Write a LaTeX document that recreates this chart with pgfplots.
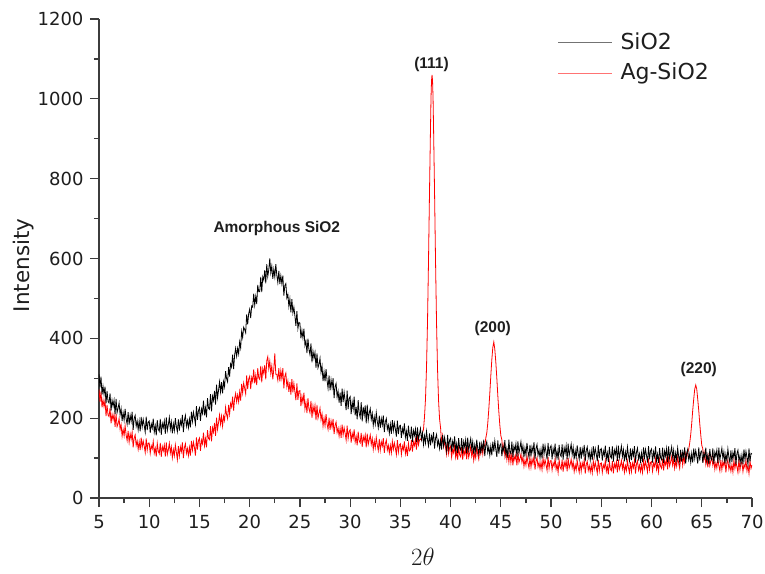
\documentclass[border=0pt]{standalone}
\usepackage{fontspec}
\setmainfont{DejaVu Sans}
\newfontfamily\annfont{Liberation Sans}
\usepackage{pgfplots}
\pgfplotsset{compat=1.18}
\definecolor{axgray}{HTML}{3C3C3C}
\definecolor{txt}{HTML}{1E1E1E}
\begin{document}
\begin{tikzpicture}
\useasboundingbox (-99pt,-75pt) rectangle (666pt,498pt);
\begin{axis}[
  scale only axis, width=653pt, height=479pt,
  xmin=5, xmax=70, ymin=0, ymax=1200,
  axis x line=bottom, axis y line=left,
  axis line style={-, axgray, line width=1.3pt},
  xtick={5,10,...,70}, ytick={0,200,...,1200},
  minor x tick num=1, minor y tick num=1,
  tick align=outside,
  major tick length=9pt, minor tick length=5pt,
  every tick/.style={axgray, line width=1.3pt},
  ticklabel style={font=\fontsize{18}{18}\selectfont, color=txt},
  xticklabel style={yshift=-5pt},
  yticklabel style={xshift=-3pt},
  /pgf/number format/assume math mode=true,
  /pgf/number format/1000 sep={},
  xlabel={$2\theta$},
  xlabel style={at={(axis description cs:0.496,-0.123)}, anchor=center, font=\fontsize{24}{24}\selectfont, color=txt},
  ylabel={Intensity},
  ylabel style={at={(axis description cs:-0.116,0.486)}, anchor=center, font=\fontsize{21.5}{21.5}\selectfont, color=txt},
  reverse legend,
  legend cell align=left,
  legend style={draw=none, fill=none, at={(axis description cs:0.702,0.976)}, anchor=north west,
    font=\fontsize{22}{24}\selectfont, text=txt, inner sep=0pt, row sep=8pt,
    /tikz/every odd column/.append style={column sep=6pt}},
  legend image code/.code={\draw[#1, line width=0.9pt, draw opacity=0.55] (0pt,-1pt) -- (54pt,-1pt);},
]
\addplot[red, line width=0.8pt] coordinates {
(5.0,272)(5.1,241)(5.2,267)(5.3,227)(5.4,246)(5.5,229)(5.6,245)(5.7,205)(5.8,233)(5.9,208)
(6.0,204)(6.1,225)(6.2,187)(6.3,210)(6.4,196)(6.5,210)(6.6,178)(6.7,210)(6.8,179)(6.9,186)
(7.0,199)(7.1,172)(7.2,184)(7.3,155)(7.4,172)(7.5,156)(7.6,181)(7.7,158)(7.8,144)(7.9,168)
(8.0,140)(8.1,161)(8.2,147)(8.3,165)(8.4,127)(8.5,150)(8.6,158)(8.7,132)(8.8,143)(8.9,122)
(9.0,141)(9.1,120)(9.2,151)(9.3,127)(9.4,143)(9.5,130)(9.6,114)(9.7,149)(9.8,120)(9.9,138)
(10.0,138)(10.1,112)(10.2,131)(10.3,123)(10.4,142)(10.5,112)(10.6,125)(10.7,104)(10.8,137)(10.9,117)
(11.0,111)(11.1,138)(11.2,103)(11.3,129)(11.4,118)(11.5,133)(11.6,104)(11.7,139)(11.8,109)(11.9,121)
(12.0,137)(12.1,113)(12.2,128)(12.3,101)(12.4,121)(12.5,106)(12.6,133)(12.7,115)(12.8,96)(12.9,130)
(13.0,105)(13.1,128)(13.2,116)(13.3,139)(13.4,100)(13.5,126)(13.6,136)(13.7,112)(13.8,124)(13.9,106)
(14.0,127)(14.1,106)(14.2,143)(14.3,120)(14.4,140)(14.5,127)(14.6,106)(14.7,152)(14.8,121)(14.9,144)
(15.0,150)(15.1,118)(15.2,145)(15.3,136)(15.4,164)(15.5,131)(15.6,149)(15.7,127)(15.8,170)(15.9,149)
(16.0,146)(16.1,180)(16.2,142)(16.3,176)(16.4,165)(16.5,188)(16.6,156)(16.7,201)(16.8,172)(16.9,189)
(17.0,208)(17.1,185)(17.2,205)(17.3,180)(17.4,205)(17.5,194)(17.6,227)(17.7,209)(17.8,199)(17.9,233)
(18.0,210)(18.1,237)(18.2,228)(18.3,254)(18.4,219)(18.5,249)(18.6,262)(18.7,241)(18.8,258)(18.9,241)
(19.0,266)(19.1,244)(19.2,286)(19.3,263)(19.4,288)(19.5,275)(19.6,261)(19.7,307)(19.8,273)(19.9,298)
(20.0,305)(20.1,273)(20.2,302)(20.3,292)(20.4,322)(20.5,287)(20.6,307)(20.7,283)(20.8,325)(20.9,301)
(21.0,297)(21.1,331)(21.2,290)(21.3,324)(21.4,312)(21.5,333)(21.6,297)(21.7,344)(21.8,354)(21.9,324)
(22.0,343)(22.1,312)(22.2,331)(22.3,297)(22.4,323)(22.5,362)(22.6,310)(22.7,310)(22.8,295)(22.9,325)
(23.0,292)(23.1,319)(23.2,299)(23.3,325)(23.4,275)(23.5,305)(23.6,313)(23.7,279)(23.8,293)(23.9,266)
(24.0,290)(24.1,259)(24.2,298)(24.3,265)(24.4,287)(24.5,266)(24.6,245)(24.7,287)(24.8,246)(24.9,268)
(25.0,269)(25.1,230)(25.2,255)(25.3,239)(25.4,264)(25.5,223)(25.6,240)(25.7,213)(25.8,250)(25.9,223)
(26.0,214)(26.1,243)(26.2,201)(26.3,231)(26.4,214)(26.5,232)(26.6,195)(26.7,233)(26.8,200)(26.9,212)
(27.0,225)(27.1,196)(27.2,211)(27.3,180)(27.4,200)(27.5,181)(27.6,210)(27.7,186)(27.8,172)(27.9,201)
(28.0,171)(28.1,193)(28.2,177)(28.3,198)(28.4,160)(28.5,182)(28.6,190)(28.7,164)(28.8,175)(28.9,155)
(29.0,175)(29.1,151)(29.2,184)(29.3,158)(29.4,176)(29.5,162)(29.6,145)(29.7,181)(29.8,149)(29.9,167)
(30.0,171)(30.1,139)(30.2,162)(30.3,150)(30.4,172)(30.5,140)(30.6,154)(30.7,132)(30.8,166)(30.9,143)
(31.0,138)(31.1,163)(31.2,128)(31.3,154)(31.4,143)(31.5,158)(31.6,127)(31.7,161)(31.8,134)(31.9,146)
(32.0,158)(32.1,134)(32.2,149)(32.3,122)(32.4,143)(32.5,126)(32.6,152)(32.7,133)(32.8,119)(32.9,148)
(33.0,120)(33.1,141)(33.2,130)(33.3,150)(33.4,113)(33.5,136)(33.6,145)(33.7,120)(33.8,132)(33.9,113)
(34.0,132)(34.1,113)(34.2,142)(34.3,122)(34.4,138)(34.5,125)(34.6,109)(34.7,145)(34.8,115)(34.9,133)
(35.0,136)(35.1,109)(35.2,130)(35.3,121)(35.4,142)(35.5,111)(35.6,126)(35.7,105)(35.8,137)(35.9,118)
(36.0,121)(36.1,145)(36.2,116)(36.3,140)(36.4,131)(36.5,147)(36.6,121)(36.7,153)(36.8,133)(36.9,145)
(37.0,148)(37.1,145)(37.2,163)(37.3,172)(37.4,203)(37.5,248)(37.6,326)(37.7,441)(37.8,595)(37.9,769)
(38.0,931)(38.05,1004)(38.1,1046)(38.15,1060)(38.2,1046)(38.25,1004)(38.3,931)(38.4,768)(38.5,592)(38.6,437)(38.7,321)(38.8,244)(38.9,198)
(39.0,176)(39.1,137)(39.2,156)(39.3,129)(39.4,142)(39.5,125)(39.6,109)(39.7,141)(39.8,111)(39.9,126)
(40.0,130)(40.1,102)(40.2,122)(40.3,113)(40.4,132)(40.5,102)(40.6,117)(40.7,96)(40.8,128)(40.9,108)
(41.0,103)(41.1,128)(41.2,96)(41.3,120)(41.4,109)(41.5,124)(41.6,97)(41.7,129)(41.8,102)(41.9,113)
(42.0,128)(42.1,105)(42.2,120)(42.3,94)(42.4,113)(42.5,100)(42.6,127)(42.7,109)(42.8,97)(42.9,125)
(43.0,111)(43.1,131)(43.2,110)(43.3,134)(43.4,130)(43.5,150)(43.6,163)(43.7,188)(43.8,222)(43.9,262)
(44.0,306)(44.1,346)(44.2,377)(44.3,391)(44.4,372)(44.5,340)(44.6,300)(44.7,256)(44.8,216)(44.9,182)
(45.0,156)(45.1,146)(45.2,116)(45.3,133)(45.4,105)(45.5,123)(45.6,96)(45.7,113)(45.8,90)(45.9,114)
(46.0,89)(46.1,113)(46.2,82)(46.3,106)(46.4,95)(46.5,110)(46.6,82)(46.7,114)(46.8,89)(46.9,98)
(47.0,110)(47.1,89)(47.2,103)(47.3,79)(47.4,95)(47.5,82)(47.6,106)(47.7,88)(47.8,75)(47.9,101)
(48.0,77)(48.1,98)(48.2,86)(48.3,105)(48.4,71)(48.5,93)(48.6,101)(48.7,78)(48.8,89)(48.9,73)
(49.0,90)(49.1,71)(49.2,100)(49.3,80)(49.4,96)(49.5,83)(49.6,69)(49.7,103)(49.8,74)(49.9,92)
(50.0,94)(50.1,70)(50.2,88)(50.3,80)(50.4,99)(50.5,72)(50.6,84)(50.7,64)(50.8,96)(50.9,77)
(51.0,72)(51.1,96)(51.2,66)(51.3,90)(51.4,79)(51.5,94)(51.6,67)(51.7,100)(51.8,75)(51.9,84)
(52.0,97)(52.1,76)(52.2,91)(52.3,66)(52.4,83)(52.5,70)(52.6,94)(52.7,77)(52.8,64)(52.9,91)
(53.0,67)(53.1,88)(53.2,77)(53.3,96)(53.4,61)(53.5,84)(53.6,92)(53.7,69)(53.8,81)(53.9,65)
(54.0,82)(54.1,63)(54.2,93)(54.3,73)(54.4,89)(54.5,76)(54.6,62)(54.7,96)(54.8,68)(54.9,86)
(55.0,88)(55.1,64)(55.2,83)(55.3,75)(55.4,94)(55.5,67)(55.6,80)(55.7,59)(55.8,92)(55.9,73)
(56.0,68)(56.1,92)(56.2,62)(56.3,86)(56.4,76)(56.5,91)(56.6,64)(56.7,96)(56.8,72)(56.9,81)
(57.0,94)(57.1,73)(57.2,88)(57.3,64)(57.4,81)(57.5,69)(57.6,93)(57.7,76)(57.8,63)(57.9,90)
(58.0,66)(58.1,87)(58.2,76)(58.3,95)(58.4,61)(58.5,85)(58.6,93)(58.7,70)(58.8,82)(58.9,66)
(59.0,83)(59.1,64)(59.2,94)(59.3,74)(59.4,91)(59.5,79)(59.6,65)(59.7,99)(59.8,71)(59.9,89)
(60.0,91)(60.1,67)(60.2,87)(60.3,79)(60.4,98)(60.5,71)(60.6,85)(60.7,65)(60.8,97)(60.9,79)
(61.0,74)(61.1,98)(61.2,69)(61.3,93)(61.4,83)(61.5,98)(61.6,72)(61.7,104)(61.8,80)(61.9,90)
(62.0,103)(62.1,82)(62.2,98)(62.3,74)(62.4,91)(62.5,79)(62.6,103)(62.7,87)(62.8,74)(62.9,101)
(63.0,109)(63.1,82)(63.2,105)(63.3,89)(63.4,112)(63.5,101)(63.6,115)(63.7,122)(63.8,138)(63.9,159)
(64.0,187)(64.1,220)(64.2,248)(64.3,273)(64.4,283)(64.5,273)(64.6,247)(64.7,219)(64.8,186)(64.9,158)
(65.0,132)(65.1,124)(65.2,96)(65.3,113)(65.4,85)(65.5,103)(65.6,77)(65.7,104)(65.8,81)(65.9,93)
(66.0,103)(66.1,82)(66.2,96)(66.3,72)(66.4,88)(66.5,75)(66.6,99)(66.7,81)(66.8,68)(66.9,95)
(67.0,71)(67.1,91)(67.2,80)(67.3,99)(67.4,64)(67.5,87)(67.6,95)(67.7,72)(67.8,83)(67.9,67)
(68.0,84)(68.1,65)(68.2,95)(68.3,74)(68.4,90)(68.5,78)(68.6,64)(68.7,98)(68.8,70)(68.9,88)
(69.0,90)(69.1,66)(69.2,84)(69.3,76)(69.4,95)(69.5,68)(69.6,81)(69.7,61)(69.8,93)(69.9,74)
(70.0,83)
};
\addlegendentry{Ag-SiO2}
\addplot[black, line width=0.8pt] coordinates {
(5.0,310)(5.1,277)(5.2,304)(5.3,259)(5.4,280)(5.5,260)(5.6,279)(5.7,237)(5.8,268)(5.9,242)
(6.0,238)(6.1,262)(6.2,219)(6.3,245)(6.4,230)(6.5,245)(6.6,210)(6.7,248)(6.8,214)(6.9,225)
(7.0,238)(7.1,209)(7.2,224)(7.3,193)(7.4,214)(7.5,195)(7.6,223)(7.7,199)(7.8,185)(7.9,215)
(8.0,184)(8.1,207)(8.2,192)(8.3,216)(8.4,171)(8.5,199)(8.6,207)(8.7,180)(8.8,193)(8.9,171)
(9.0,193)(9.1,167)(9.2,203)(9.3,178)(9.4,197)(9.5,182)(9.6,165)(9.7,204)(9.8,170)(9.9,190)
(10.0,193)(10.1,163)(10.2,186)(10.3,175)(10.4,199)(10.5,165)(10.6,181)(10.7,157)(10.8,195)(10.9,172)
(11.0,167)(11.1,198)(11.2,158)(11.3,187)(11.4,176)(11.5,193)(11.6,161)(11.7,202)(11.8,169)(11.9,183)
(12.0,202)(12.1,173)(12.2,191)(12.3,162)(12.4,186)(12.5,169)(12.6,200)(12.7,179)(12.8,166)(12.9,197)
(13.0,169)(13.1,194)(13.2,183)(13.3,208)(13.4,165)(13.5,195)(13.6,207)(13.7,180)(13.8,194)(13.9,176)
(14.0,198)(14.1,177)(14.2,216)(14.3,192)(14.4,215)(14.5,201)(14.6,185)(14.7,230)(14.8,196)(14.9,219)
(15.0,226)(15.1,193)(15.2,223)(15.3,212)(15.4,244)(15.5,207)(15.6,226)(15.7,202)(15.8,250)(15.9,225)
(16.0,222)(16.1,260)(16.2,217)(16.3,255)(16.4,244)(16.5,268)(16.6,234)(16.7,284)(16.8,251)(16.9,270)
(17.0,291)(17.1,266)(17.2,290)(17.3,262)(17.4,292)(17.5,279)(17.6,318)(17.7,299)(17.8,291)(17.9,328)
(18.0,304)(18.1,336)(18.2,328)(18.3,359)(18.4,323)(18.5,358)(18.6,375)(18.7,355)(18.8,375)(18.9,361)
(19.0,391)(19.1,376)(19.2,417)(19.3,402)(19.4,428)(19.5,422)(19.6,414)(19.7,460)(19.8,435)(19.9,462)
(20.0,473)(20.1,451)(20.2,481)(20.3,478)(20.4,512)(20.5,483)(20.6,505)(20.7,486)(20.8,534)(20.9,517)
(21.0,517)(21.1,554)(21.2,516)(21.3,554)(21.4,546)(21.5,571)(21.6,538)(21.7,586)(21.8,555)(21.9,572)
(22.0,600)(22.1,564)(22.2,581)(22.3,549)(22.4,573)(22.5,554)(22.6,586)(22.7,558)(22.8,540)(22.9,569)
(23.0,536)(23.1,557)(23.2,537)(23.3,557)(23.4,507)(23.5,532)(23.6,537)(23.7,501)(23.8,510)(23.9,480)
(24.0,499)(24.1,465)(24.2,498)(24.3,464)(24.4,478)(24.5,456)(24.6,431)(24.7,468)(24.8,425)(24.9,440)
(25.0,438)(25.1,400)(25.2,420)(25.3,401)(25.4,424)(25.5,382)(25.6,393)(25.7,363)(25.8,399)(25.9,372)
(26.0,359)(26.1,387)(26.2,340)(26.3,368)(26.4,350)(26.5,365)(26.6,326)(26.7,362)(26.8,326)(26.9,335)
(27.0,350)(27.1,315)(27.2,331)(27.3,293)(27.4,316)(27.5,292)(27.6,323)(27.7,295)(27.8,275)(27.9,307)
(28.0,270)(28.1,296)(28.2,276)(28.3,300)(28.4,250)(28.5,279)(28.6,287)(28.7,253)(28.8,267)(28.9,239)
(29.0,264)(29.1,231)(29.2,274)(29.3,240)(29.4,265)(29.5,243)(29.6,220)(29.7,269)(29.8,223)(29.9,250)
(30.0,254)(30.1,210)(30.2,241)(30.3,223)(30.4,254)(30.5,207)(30.6,228)(30.7,197)(30.8,245)(30.9,212)
(31.0,202)(31.1,240)(31.2,192)(31.3,228)(31.4,208)(31.5,232)(31.6,187)(31.7,234)(31.8,195)(31.9,213)
(32.0,224)(32.1,197)(32.2,212)(32.3,182)(32.4,203)(32.5,185)(32.6,214)(32.7,192)(32.8,176)(32.9,206)
(33.0,176)(33.1,199)(33.2,183)(33.3,207)(33.4,165)(33.5,191)(33.6,199)(33.7,172)(33.8,183)(33.9,162)
(34.0,185)(34.1,161)(34.2,195)(34.3,169)(34.4,188)(34.5,173)(34.6,154)(34.7,194)(34.8,160)(34.9,180)
(35.0,182)(35.1,151)(35.2,174)(35.3,163)(35.4,187)(35.5,152)(35.6,167)(35.7,143)(35.8,181)(35.9,157)
(36.0,151)(36.1,179)(36.2,140)(36.3,169)(36.4,157)(36.5,173)(36.6,140)(36.7,177)(36.8,147)(36.9,160)
(37.0,174)(37.1,147)(37.2,163)(37.3,134)(37.4,156)(37.5,138)(37.6,167)(37.7,146)(37.8,131)(37.9,162)
(38.0,132)(38.1,155)(38.2,142)(38.3,165)(38.4,124)(38.5,150)(38.6,159)(38.7,132)(38.8,144)(38.9,124)
(39.0,145)(39.1,121)(39.2,158)(39.3,131)(39.4,152)(39.5,136)(39.6,118)(39.7,158)(39.8,125)(39.9,145)
(40.0,150)(40.1,116)(40.2,142)(40.3,129)(40.4,154)(40.5,119)(40.6,136)(40.7,113)(40.8,150)(40.9,125)
(41.0,120)(41.1,150)(41.2,111)(41.3,141)(41.4,128)(41.5,146)(41.6,112)(41.7,151)(41.8,120)(41.9,135)
(42.0,149)(42.1,123)(42.2,141)(42.3,110)(42.4,133)(42.5,115)(42.6,146)(42.7,124)(42.8,110)(42.9,141)
(43.0,111)(43.1,136)(43.2,121)(43.3,146)(43.4,105)(43.5,132)(43.6,141)(43.7,114)(43.8,128)(43.9,107)
(44.0,130)(44.1,107)(44.2,141)(44.3,116)(44.4,143)(44.5,122)(44.6,103)(44.7,144)(44.8,111)(44.9,132)
(45.0,136)(45.1,105)(45.2,129)(45.3,118)(45.4,145)(45.5,108)(45.6,124)(45.7,101)(45.8,146)(45.9,116)
(46.0,111)(46.1,141)(46.2,102)(46.3,130)(46.4,119)(46.5,136)(46.6,104)(46.7,142)(46.8,112)(46.9,126)
(47.0,141)(47.1,115)(47.2,131)(47.3,102)(47.4,125)(47.5,108)(47.6,138)(47.7,116)(47.8,102)(47.9,133)
(48.0,104)(48.1,128)(48.2,115)(48.3,140)(48.4,97)(48.5,124)(48.6,134)(48.7,107)(48.8,120)(48.9,100)
(49.0,122)(49.1,99)(49.2,136)(49.3,110)(49.4,131)(49.5,115)(49.6,97)(49.7,138)(49.8,105)(49.9,126)
(50.0,131)(50.1,97)(50.2,124)(50.3,110)(50.4,136)(50.5,101)(50.6,118)(50.7,96)(50.8,133)(50.9,109)
(51.0,104)(51.1,134)(51.2,96)(51.3,126)(51.4,112)(51.5,131)(51.6,97)(51.7,136)(51.8,106)(51.9,121)
(52.0,135)(52.1,109)(52.2,127)(52.3,97)(52.4,119)(52.5,101)(52.6,132)(52.7,111)(52.8,97)(52.9,128)
(53.0,98)(53.1,123)(53.2,109)(53.3,133)(53.4,92)(53.5,119)(53.6,128)(53.7,102)(53.8,116)(53.9,95)
(54.0,118)(54.1,95)(54.2,130)(54.3,105)(54.4,124)(54.5,110)(54.6,92)(54.7,133)(54.8,100)(54.9,121)
(55.0,124)(55.1,94)(55.2,118)(55.3,107)(55.4,131)(55.5,97)(55.6,113)(55.7,90)(55.8,128)(55.9,105)
(56.0,100)(56.1,129)(56.2,91)(56.3,120)(56.4,109)(56.5,125)(56.6,93)(56.7,131)(56.8,101)(56.9,115)
(57.0,130)(57.1,104)(57.2,121)(57.3,92)(57.4,115)(57.5,98)(57.6,128)(57.7,107)(57.8,93)(57.9,124)
(58.0,95)(58.1,119)(58.2,106)(58.3,130)(58.4,89)(58.5,115)(58.6,125)(58.7,98)(58.8,111)(58.9,91)
(59.0,113)(59.1,90)(59.2,127)(59.3,101)(59.4,122)(59.5,107)(59.6,89)(59.7,130)(59.8,97)(59.9,118)
(60.0,123)(60.1,89)(60.2,116)(60.3,103)(60.4,129)(60.5,93)(60.6,110)(60.7,88)(60.8,125)(60.9,101)
(61.0,96)(61.1,126)(61.2,88)(61.3,118)(61.4,105)(61.5,124)(61.6,90)(61.7,129)(61.8,99)(61.9,114)
(62.0,128)(62.1,102)(62.2,120)(62.3,90)(62.4,113)(62.5,95)(62.6,125)(62.7,104)(62.8,90)(62.9,121)
(63.0,91)(63.1,116)(63.2,102)(63.3,127)(63.4,86)(63.5,113)(63.6,122)(63.7,96)(63.8,110)(63.9,89)
(64.0,112)(64.1,89)(64.2,124)(64.3,99)(64.4,119)(64.5,105)(64.6,86)(64.7,127)(64.8,94)(64.9,115)
(65.0,118)(65.1,88)(65.2,112)(65.3,101)(65.4,126)(65.5,92)(65.6,108)(65.7,85)(65.8,123)(65.9,100)
(66.0,95)(66.1,124)(66.2,86)(66.3,115)(66.4,104)(66.5,120)(66.6,88)(66.7,126)(66.8,96)(66.9,110)
(67.0,125)(67.1,99)(67.2,116)(67.3,87)(67.4,110)(67.5,93)(67.6,123)(67.7,102)(67.8,88)(67.9,119)
(68.0,90)(68.1,114)(68.2,101)(68.3,125)(68.4,84)(68.5,111)(68.6,120)(68.7,93)(68.8,106)(68.9,86)
(69.0,108)(69.1,85)(69.2,122)(69.3,96)(69.4,117)(69.5,102)(69.6,84)(69.7,124)(69.8,91)(69.9,112)
(70.0,110)
};
\addlegendentry{SiO2}
\node[font=\annfont\bfseries\fontsize{15.5}{15.5}\selectfont, text=txt] at (axis cs:22.7,674) {Amorphous SiO2};
\node[font=\annfont\bfseries\fontsize{15.5}{15.5}\selectfont, text=txt] at (axis cs:38.1,1085) {(111)};
\node[font=\annfont\bfseries\fontsize{15.5}{15.5}\selectfont, text=txt] at (axis cs:44.2,424) {(200)};
\node[font=\annfont\bfseries\fontsize{15.5}{15.5}\selectfont, text=txt] at (axis cs:64.7,323) {(220)};
\end{axis}
\end{tikzpicture}
\end{document}
